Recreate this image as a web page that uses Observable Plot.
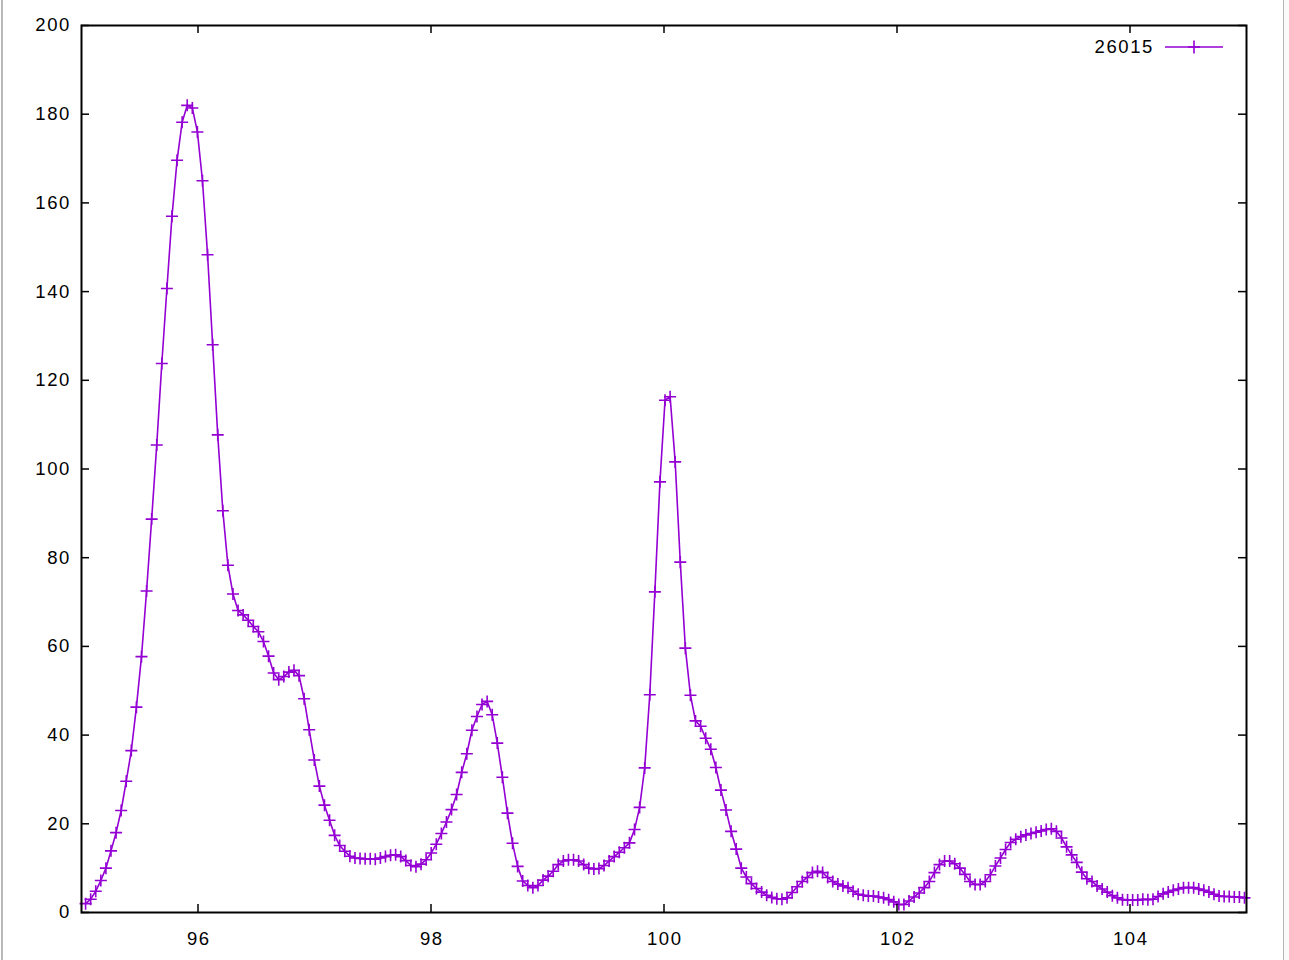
<!DOCTYPE html>
<html>
<head>
<meta charset="utf-8">
<script src="https://cdn.jsdelivr.net/npm/d3@7"></script>
<script src="https://cdn.jsdelivr.net/npm/@observablehq/plot@0.6"></script>
<style>
  html, body { margin: 0; padding: 0; background: #fff; }
  #wrap { position: relative; width: 1289px; height: 960px; overflow: hidden; background: #fff;
          font-family: "Liberation Sans", Arial, Helvetica, sans-serif; }
  #chart { position: absolute; left: 0; top: 0; }
  #chart svg text { letter-spacing: 1.6px; }
  #legend { position: absolute; left: 1030px; top: 36px; height: 22px; display: flex; align-items: center; }
  #legend .lbl { width: 124px; text-align: right; font-size: 18.5px; letter-spacing: 1.6px; color: #000; line-height: 22px; }
  #legend svg { margin-left: 10px; }
  .edgeL { position: absolute; left: 1px; top: 0; width: 2px; height: 960px; background: #b9b9b9; }
  .edgeR { position: absolute; left: 1283px; top: 0; width: 6px; height: 960px; background: #fafafa; border-left: 1px solid #b5b5b5; }
</style>
</head>
<body>
<div id="wrap">
  <div id="chart"></div>
  <div id="legend"><span class="lbl"></span><svg width="60" height="22"></svg></div>
  <div class="edgeL"></div>
  <div class="edgeR"></div>
</div>
<script>
// ---- data ----
const seriesName = "26015";
const xStart = 95.035;   // first sample position
const xStep = 0.04363;   // sampling interval of the measurement
const yValues = [
  2.0, 3.0, 4.8, 7.2, 10.0, 13.9, 18.0, 23.0, 29.6, 36.5,
  46.3, 57.7, 72.5, 88.7, 105.4, 123.8, 140.7, 157.0, 169.6, 178.2,
  182.0, 181.4, 176.0, 165.0, 148.3, 128.0, 107.7, 90.6, 78.3, 71.8,
  68.1, 67.1, 65.9, 64.5, 63.3, 61.1, 57.8, 54.0, 52.5, 53.2,
  54.2, 54.6, 53.4, 48.2, 41.2, 34.4, 28.5, 24.2, 20.8, 17.4,
  15.1, 13.8, 12.7, 12.3, 12.2, 12.1, 12.1, 12.0, 12.3, 12.6,
  12.9, 13.0, 12.6, 11.7, 10.6, 10.3, 10.9, 11.9, 13.4, 15.4,
  17.8, 20.4, 23.2, 26.6, 31.6, 35.8, 41.1, 44.2, 46.9, 47.6,
  44.6, 38.2, 30.5, 22.4, 15.6, 10.4, 7.1, 6.1, 5.6, 6.1,
  7.3, 8.2, 9.3, 10.8, 11.6, 11.9, 11.9, 11.6, 10.8, 10.0,
  9.8, 9.9, 10.6, 11.6, 12.6, 13.6, 14.6, 15.7, 18.7, 23.7,
  32.6, 49.1, 72.3, 97.1, 115.5, 116.3, 101.6, 79.0, 59.6, 49.0,
  43.2, 42.0, 39.3, 36.8, 32.7, 27.6, 23.1, 18.3, 14.3, 10.0,
  8.0, 6.5, 5.4, 4.6, 3.9, 3.4, 3.1, 3.0, 3.3, 4.5,
  5.8, 7.0, 7.9, 9.0, 9.3, 9.0, 7.9, 7.0, 6.4, 6.0,
  5.6, 4.8, 4.1, 3.9, 3.7, 3.7, 3.5, 3.3, 2.9, 2.4,
  1.8, 1.8, 2.6, 3.5, 4.4, 5.6, 7.0, 9.0, 10.8, 11.6,
  11.6, 11.0, 10.0, 8.6, 7.0, 6.3, 6.3, 7.0, 8.5, 10.5,
  12.3, 14.2, 15.8, 16.5, 17.1, 17.5, 17.8, 18.1, 18.4, 18.7,
  18.9, 18.3, 16.8, 14.8, 13.0, 11.3, 9.1, 7.6, 7.0, 6.0,
  5.3, 4.6, 3.8, 3.3, 2.9, 2.8, 2.8, 2.8, 3.0, 2.9,
  3.0, 3.6, 4.2, 4.6, 5.0, 5.3, 5.6, 5.6, 5.6, 5.3,
  5.0, 4.6, 4.1, 3.7, 3.6, 3.6, 3.5, 3.5, 3.3
];
const xDomain = [95, 105];
const yDomain = [0, 200];
const xTicks = [96, 98, 100, 102, 104];
const yTicks = [0, 20, 40, 60, 80, 100, 120, 140, 160, 180, 200];

// ---- build ----
const data = yValues.map((y, i) => ({x: xStart + i * xStep, y}));
const color = "#9400d3";
const W = 1289, H = 960;
const mL = 81, mR = 43, mT = 25, mB = 48;
const plotW = W - mL - mR, plotH = H - mT - mB;
const tickLen = 8;

const plusSymbol = {
  draw(ctx, size) {
    const r = Math.sqrt(size / Math.PI);
    ctx.moveTo(-r, 0); ctx.lineTo(r, 0);
    ctx.moveTo(0, -r); ctx.lineTo(0, r);
  }
};

const chart = Plot.plot({
  width: W, height: H,
  marginLeft: mL, marginRight: mR, marginTop: mT, marginBottom: mB,
  style: {fontFamily: '"Liberation Sans", Arial, Helvetica, sans-serif', fontSize: "18.5px", color: "#000", background: "transparent"},
  x: {domain: xDomain},
  y: {domain: yDomain},
  marks: [
    Plot.line(data, {x: "x", y: "y", stroke: color, strokeWidth: 1.6}),
    Plot.dot(data, {x: "x", y: "y", symbol: plusSymbol, r: 6, stroke: color, strokeWidth: 1.6, fill: "none"}),
    Plot.ruleX(xTicks, {insetTop: plotH - tickLen, stroke: "#000", strokeWidth: 1.5}),
    Plot.ruleX(xTicks, {insetBottom: plotH - tickLen, stroke: "#000", strokeWidth: 1.5}),
    Plot.ruleY(yTicks, {insetRight: plotW - tickLen, stroke: "#000", strokeWidth: 1.5}),
    Plot.ruleY(yTicks, {insetLeft: plotW - tickLen, stroke: "#000", strokeWidth: 1.5}),
    Plot.axisX({ticks: xTicks, tickSize: 0, tickPadding: 19, label: null, fontSize: 18.5, dx: 0.8}),
    Plot.axisY({ticks: yTicks, tickSize: 0, tickPadding: 10.5, label: null, fontSize: 18.5}),
    Plot.frame({stroke: "#000", strokeWidth: 2})
  ]
});
document.getElementById("chart").appendChild(chart);

// ---- legend (key inside the top-right corner, as in the reference) ----
document.querySelector("#legend .lbl").textContent = seriesName;
const lsvg = d3.select("#legend svg");
lsvg.append("line").attr("x1", 1).attr("x2", 59).attr("y1", 11).attr("y2", 11)
  .attr("stroke", color).attr("stroke-width", 1.6);
lsvg.append("path").attr("d", "M24,11H36M30,4.5V17.5")
  .attr("stroke", color).attr("stroke-width", 1.6).attr("fill", "none");
</script>
</body>
</html>
